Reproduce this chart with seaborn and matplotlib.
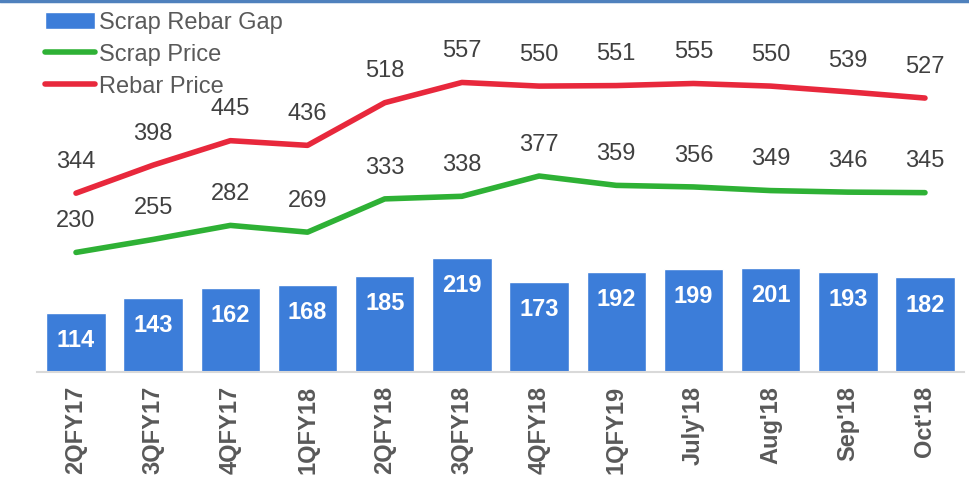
import numpy as np
import pandas as pd
import matplotlib
matplotlib.use("Agg")
import matplotlib.pyplot as plt
from matplotlib.lines import Line2D
import seaborn as sns

categories = ["2QFY17", "3QFY17", "4QFY17", "1QFY18", "2QFY18", "3QFY18",
              "4QFY18", "1QFY19", "July'18", "Aug'18", "Sep'18", "Oct'18"]
gap = [114, 143, 162, 168, 185, 219, 173, 192, 199, 201, 193, 182]
scrap = [230, 255, 282, 269, 333, 338, 377, 359, 356, 349, 346, 345]
rebar = [344, 398, 445, 436, 518, 557, 550, 551, 555, 550, 539, 527]

BLUE = "#3c7dd9"
GREEN = "#2eb135"
RED = "#e8283c"
GRAY = "#595959"
FS = 17

sns.set_style("white")
plt.rcParams["font.family"] = ["Liberation Sans", "DejaVu Sans"]

fig = plt.figure(figsize=(9.69, 4.78), dpi=100)
ax = fig.add_axes([0.0386, 0.2218, 0.9558, 0.7612])

df = pd.DataFrame({"cat": categories, "gap": gap, "scrap": scrap, "rebar": rebar,
                   "pos": np.arange(len(categories))})

sns.barplot(data=df, x="cat", y="gap", color=BLUE, saturation=1, width=0.77,
            ax=ax, label="Scrap Rebar Gap", zorder=2)
sns.lineplot(data=df, x="pos", y="scrap", color=GREEN, lw=4, ax=ax,
             label="Scrap Price", zorder=3, solid_capstyle="round")
sns.lineplot(data=df, x="pos", y="rebar", color=RED, lw=4, ax=ax,
             label="Rebar Price", zorder=3, solid_capstyle="round")

for i, v in enumerate(gap):
    ax.annotate(str(v), (i, v), xytext=(0, -20), textcoords="offset points",
                ha="center", va="center", color="white", fontsize=FS,
                fontweight="bold", zorder=4)
for series in (scrap, rebar):
    for i, v in enumerate(series):
        ax.annotate(str(v), (i, v), xytext=(0, 22.5), textcoords="offset points",
                    ha="center", va="center", color="#404040", fontsize=FS,
                    zorder=4)

ax.set_xlim(-0.5, len(categories) - 0.5)
ax.set_ylim(0, 700)
ax.set_xlabel("")
ax.set_ylabel("")
ax.set_yticks([])
ax.set_xticks(np.arange(len(categories)))
ax.set_xticklabels(categories, rotation=90, fontsize=FS, fontweight="bold",
                   color=GRAY)
ax.tick_params(axis="x", length=0, pad=10)
for s in ["top", "right", "left"]:
    ax.spines[s].set_visible(False)
ax.spines["bottom"].set_color("#d9d9d9")
ax.spines["bottom"].set_linewidth(1.5)

handles, labels = ax.get_legend_handles_labels()
order = [labels.index("Scrap Rebar Gap"), labels.index("Scrap Price"),
         labels.index("Rebar Price")]
leg = ax.legend([handles[k] for k in order], [labels[k] for k in order],
                loc="upper left", bbox_to_anchor=(-0.002, 1.016), frameon=False,
                fontsize=FS, handlelength=2.1, handletextpad=0.2,
                labelspacing=0.42, borderaxespad=0)
for t in leg.get_texts():
    t.set_color(GRAY)
for h in leg.legend_handles:
    if isinstance(h, Line2D):
        h.set_solid_capstyle("round")

fig.add_artist(Line2D([0, 1], [0.998, 0.998], transform=fig.transFigure,
                      color="#4f81bd", lw=2.5))

fig.savefig("out.png", dpi=100)
